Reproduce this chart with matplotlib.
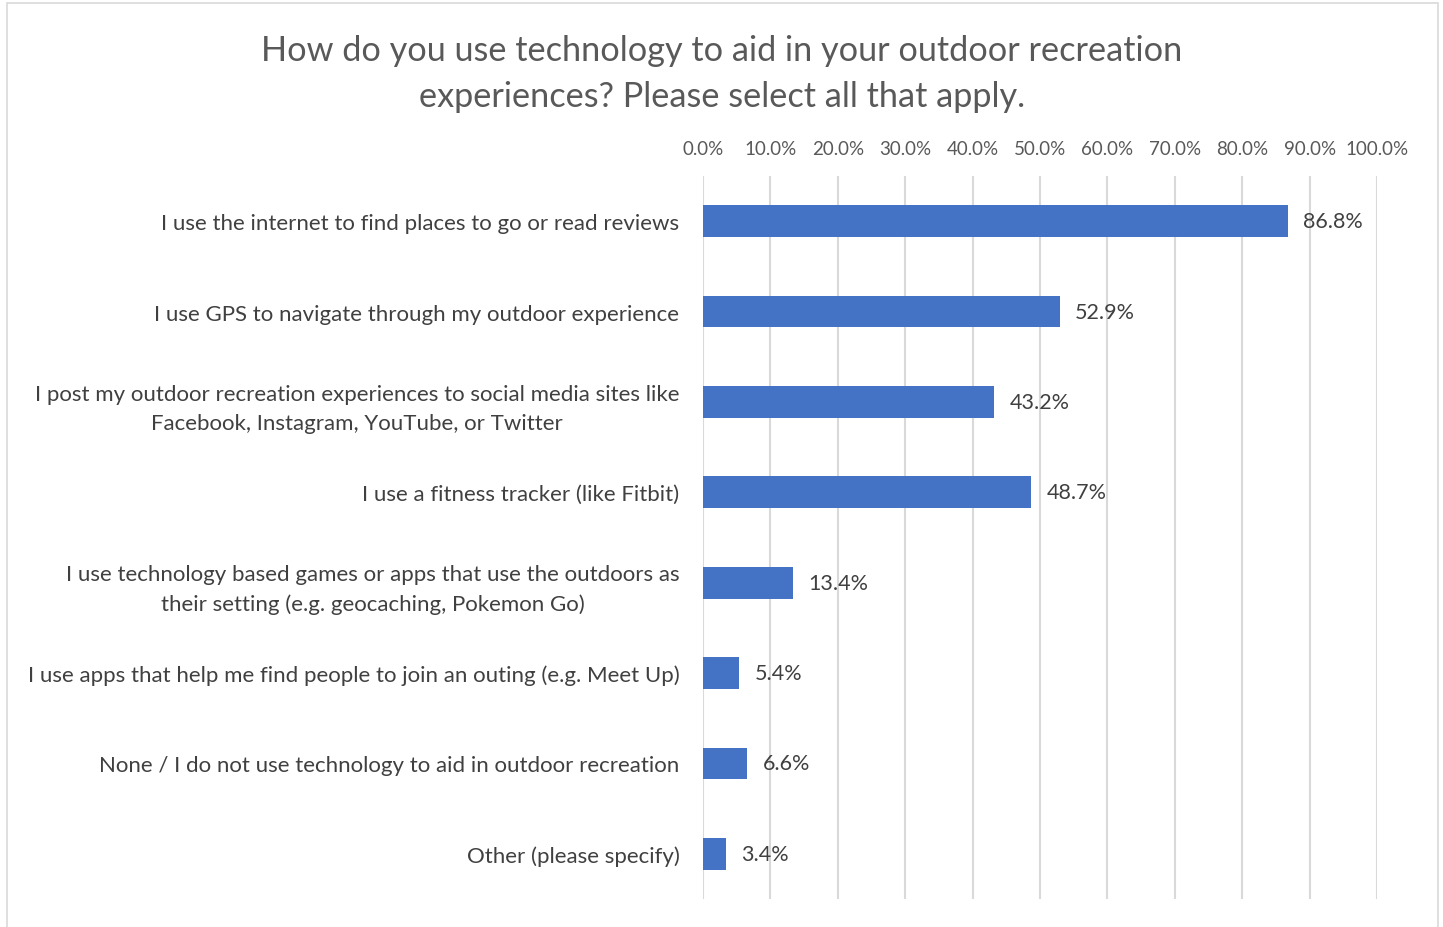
#!/usr/bin/env python3
"""Technology use in outdoor recreation - horizontal bar chart"""

import matplotlib
matplotlib.use("Agg")
import matplotlib.pyplot as plt
from matplotlib.patches import Rectangle
from matplotlib.ticker import PercentFormatter

categories = [
    "I use the internet to find places to go or read reviews",
    "I use GPS to navigate through my outdoor experience",
    "I post my outdoor recreation experiences to social media sites like\n"
    "Facebook, Instagram, YouTube, or Twitter",
    "I use a fitness tracker (like Fitbit)",
    "I use technology based games or apps that use the outdoors as\n"
    "their setting (e.g. geocaching, Pokemon Go)",
    "I use apps that help me find people to join an outing (e.g. Meet Up)",
    "None / I do not use technology to aid in outdoor recreation",
    "Other (please specify)",
]
values = [86.8, 52.9, 43.2, 48.7, 13.4, 5.4, 6.6, 3.4]
ticks = [0, 10, 20, 30, 40, 50, 60, 70, 80, 90, 100]
title = ("How do you use technology to aid in your outdoor recreation\n"
         "experiences? Please select all that apply.")

plt.rcParams['font.family'] = ['Lato', 'DejaVu Sans']

fig = plt.figure(figsize=(14.43, 9.28), dpi=100)
fig.patches.append(Rectangle((7 / 1443, -0.05), (1438 - 7) / 1443, 1.05 - 4 / 928,
                             transform=fig.transFigure, fill=False,
                             edgecolor="#d9d9d9", lw=1.2))

ax = fig.add_axes([703 / 1443, 1 - 900 / 928, 674 / 1443, 723 / 928])
pos = list(range(len(categories)))
ax.barh(pos, values, height=0.35, color="#4472C4", zorder=3)
ax.set_ylim(len(categories) - 0.5, -0.5)
ax.set_xlim(0, 100)
ax.set_xticks(ticks)
ax.xaxis.set_major_formatter(PercentFormatter(decimals=1))
ax.xaxis.tick_top()
ax.tick_params(axis="x", length=0, pad=14, labelsize=13.5, labelcolor="#595959")
ax.set_yticks(pos)
ax.set_yticklabels(categories, multialignment="center", linespacing=1.55)
ax.tick_params(axis="y", length=0, pad=17, labelsize=16, labelcolor="#404040")
ax.grid(axis="x", color="#d9d9d9", lw=1.5, zorder=0)
for s in ax.spines.values():
    s.set_visible(False)

for p, v in zip(pos, values):
    ax.annotate("{0:.1f}%".format(v), (v, p), xytext=(11, 0),
                textcoords="offset points", va="center", ha="left",
                fontsize=15.5, color="#404040")

fig.text(722 / 1443, 1 - 74 / 928, title, ha="center", va="center",
         fontsize=24.7, color="#595959", linespacing=1.55)

fig.savefig("out.png", dpi=100)
